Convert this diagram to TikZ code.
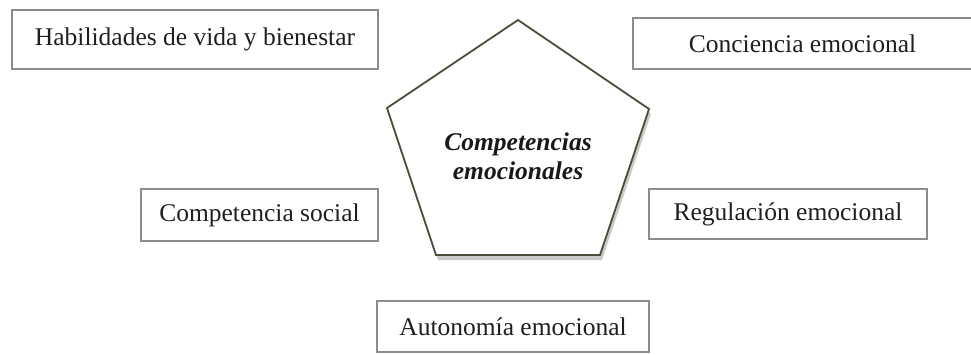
\documentclass[tikz,border=0pt]{standalone}
\usepackage{fontspec}
\setmainfont{Liberation Serif}
\usetikzlibrary{positioning,shadows}
\definecolor{olivo}{RGB}{72,78,58}
\begin{document}
\begin{tikzpicture}[x=1pt, y=-1pt,
    caja/.style={draw=gray!90, line width=1.2pt, fill=white, inner sep=0pt, text=black!88, font=\fontsize{25.5}{29}\selectfont}]
        \useasboundingbox (0,0) rectangle (971,354);
        % pentagono central
        \coordinate (p1) at (518,20);
        \coordinate (p2) at (649,109);
        \coordinate (p3) at (600,255);
        \coordinate (p4) at (436,255);
        \coordinate (p5) at (387,108);
        \draw[draw=olivo, line width=1.8pt, line join=miter, fill=white, drop shadow={shadow xshift=2pt, shadow yshift=-5pt, fill=black!35, opacity=.6}] (p1) -- (p2) -- (p3) -- (p4) -- (p5) -- cycle;
        \node[align=center, text=black!90, font=\fontsize{25.5}{29}\selectfont\bfseries\itshape] (cen) at (518,156) {Competencias\\emocionales};
        % cajas
        \node[caja, style={minimum width=366pt, minimum height=59pt}] (hab) at (195,39.5) {Habilidades de vida y bienestar};
        \node[caja, style={minimum width=339pt, minimum height=51pt}] (con) at (802.5,43.5) {Conciencia emocional};
        \node[caja, style={minimum width=237pt, minimum height=52pt}] (soc) at (259.5,215) {Competencia social};
        \node[caja, style={minimum width=278pt, minimum height=50pt}] (reg) at (788,214) {Regulación emocional};
        \node[caja, style={minimum width=272pt, minimum height=51pt}] (aut) at (513,326.5) {Autonomía emocional};
\end{tikzpicture}
\end{document}
